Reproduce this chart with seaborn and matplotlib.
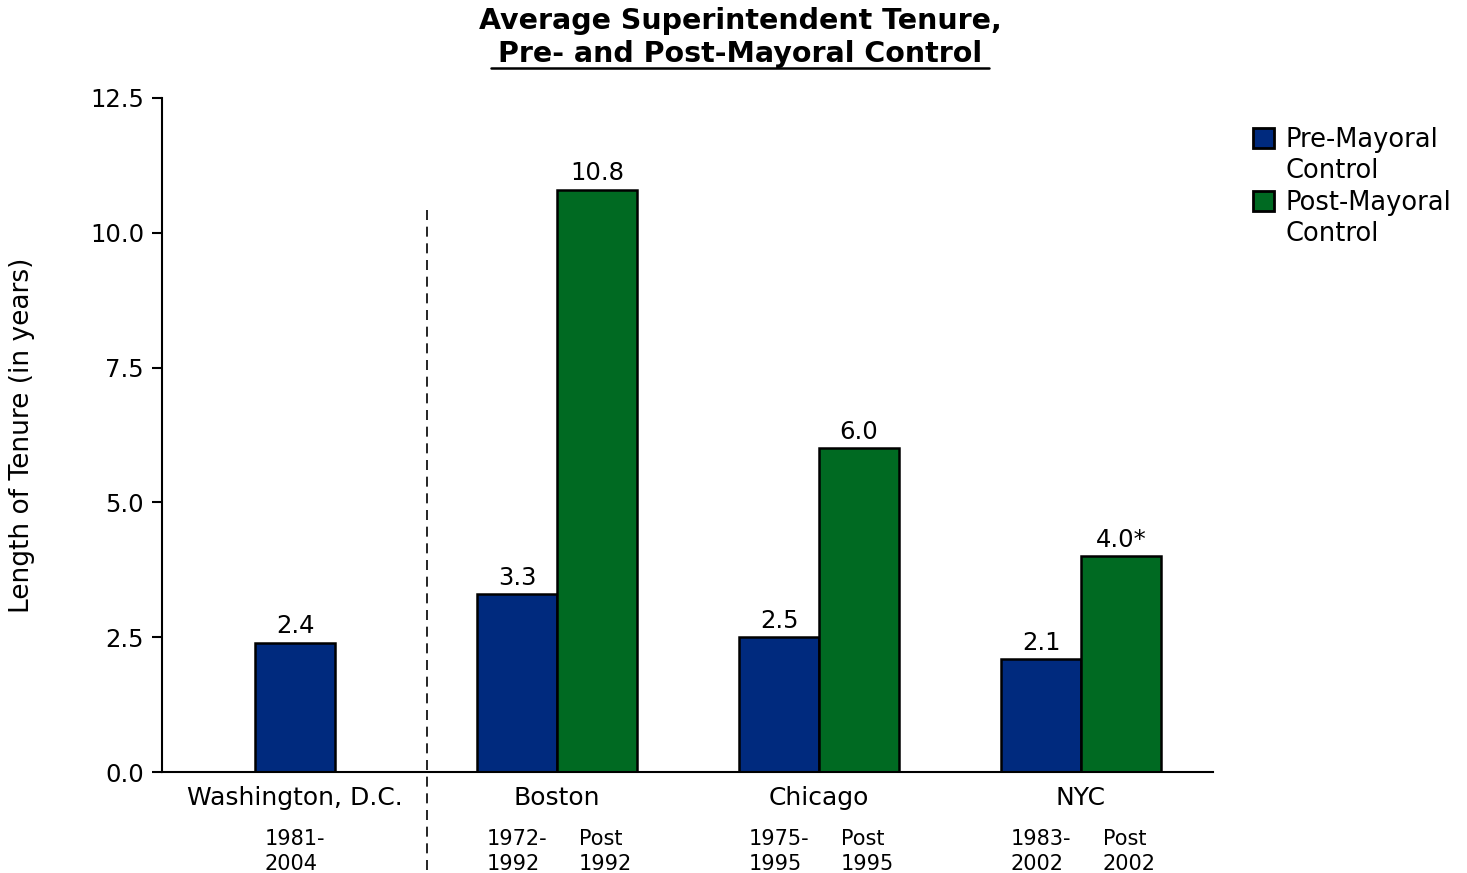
import numpy as np
import pandas as pd
import seaborn as sns
import matplotlib.pyplot as plt
from matplotlib.patches import Patch
from matplotlib.lines import Line2D
from matplotlib.ticker import FormatStrFormatter

# ---- data ----
cities = ["Washington, D.C.", "Boston", "Chicago", "NYC"]
pre_values = [2.4, 3.3, 2.5, 2.1]
post_values = [None, 10.8, 6.0, 4.0]
pre_labels = ["2.4", "3.3", "2.5", "2.1"]
post_labels = [None, "10.8", "6.0", "4.0*"]
pre_periods = ["1981-\n2004", "1972-\n1992", "1975-\n1995", "1983-\n2002"]
post_periods = [None, "Post\n1992", "Post\n1995", "Post\n2002"]
series_names = ["Pre-Mayoral\nControl", "Post-Mayoral\nControl"]
colors = ["#002A7E", "#006A22"]
y_ticks = [0.0, 2.5, 5.0, 7.5, 10.0, 12.5]
title_lines = ["Average Superintendent Tenure,", "Pre- and Post-Mayoral Control"]
y_title = "Length of Tenure (in years)"

# ---- layout ----
half = 0.1525
rows = []
for i, city in enumerate(cities):
    if post_values[i] is None:
        rows.append(dict(pos=float(i), value=pre_values[i], series=series_names[0],
                         label=pre_labels[i], period=pre_periods[i], dx=0))
    else:
        rows.append(dict(pos=i - half, value=pre_values[i], series=series_names[0],
                         label=pre_labels[i], period=pre_periods[i], dx=0))
        rows.append(dict(pos=i + half, value=post_values[i], series=series_names[1],
                         label=post_labels[i], period=post_periods[i], dx=6))
df = pd.DataFrame(rows)

sns.set_style("ticks")
plt.rcParams["font.family"] = ["DejaVu Sans"]
for k in ["text.color", "axes.labelcolor", "xtick.color", "ytick.color", "axes.edgecolor"]:
    plt.rcParams[k] = "black"

fig = plt.figure(figsize=(14.67, 8.73), dpi=100)
ax = fig.add_axes([162 / 1467, 1 - 772 / 873, (1213 - 162) / 1467, (772 - 98) / 873])

sns.barplot(data=df, x="pos", y="value", hue="series", hue_order=series_names,
            palette=colors, saturation=1, native_scale=True, dodge=False, width=1.0,
            orient="x", edgecolor="black", linewidth=1.8, legend=False, ax=ax,
            errorbar=None)

ax.set_xlim(-0.508, 3.504)
ax.set_ylim(0, 12.5)
ax.set_yticks(y_ticks)
ax.yaxis.set_major_formatter(FormatStrFormatter("%.1f"))
ax.set_xticks(range(len(cities)))
ax.set_xticklabels(cities)
ax.tick_params(axis="x", length=0, pad=10, labelsize=18)
ax.tick_params(axis="y", length=7, width=1.5, pad=6, labelsize=17.5, direction="out")
for s in ["top", "right"]:
    ax.spines[s].set_visible(False)
for s in ["left", "bottom"]:
    ax.spines[s].set_linewidth(1.5)
ax.set_xlabel("")
ax.set_ylabel(y_title, fontsize=19, va="center")
ax.yaxis.set_label_coords((22 - 162) / 1051, 0.5)

# value labels and period labels
for _, r in df.iterrows():
    ax.annotate(r["label"], (r["pos"], r["value"]), xytext=(0, 3), textcoords="offset points",
                ha="center", va="bottom", fontsize=17.5)
    ax.annotate(r["period"], (r["pos"], 0), xycoords=("data", "axes fraction"),
                xytext=(r["dx"], -41), textcoords="offset points", ha="center", va="top",
                multialignment="left", fontsize=15, linespacing=1.32)

# dashed separator
ax.axvline(0.504, ymin=-0.145, ymax=0.84, color="black", linestyle=(0, (6, 4)),
           linewidth=1.2, clip_on=False)

# legend: handle aligned with first line of each label
handles, labels = [], []
for name, c in zip(series_names, colors):
    parts = name.split("\n")
    handles.append(Patch(facecolor=c, edgecolor="black", linewidth=2))
    labels.append(parts[0])
    for p in parts[1:]:
        handles.append(Patch(facecolor="none", edgecolor="none"))
        labels.append(p)
fig.legend(handles, labels, loc="upper left", bbox_to_anchor=(1253 / 1467, 1 - 127 / 873),
           frameon=False, fontsize=18.5, handlelength=0.8, handleheight=0.8,
           handletextpad=0.47, labelspacing=0.21, borderaxespad=0, borderpad=0)

# title
fig.text(740 / 1467, 1 - 29 / 873, title_lines[0], ha="center", va="baseline",
         fontsize=20.5, fontweight="bold")
fig.text(740 / 1467, 1 - 62 / 873, title_lines[1], ha="center", va="baseline",
         fontsize=20.5, fontweight="bold")
fig.add_artist(Line2D([491 / 1467, 989 / 1467], [1 - 68 / 873, 1 - 68 / 873], color="black",
                      linewidth=1.8, transform=fig.transFigure))

fig.savefig("out.png", dpi=100)
